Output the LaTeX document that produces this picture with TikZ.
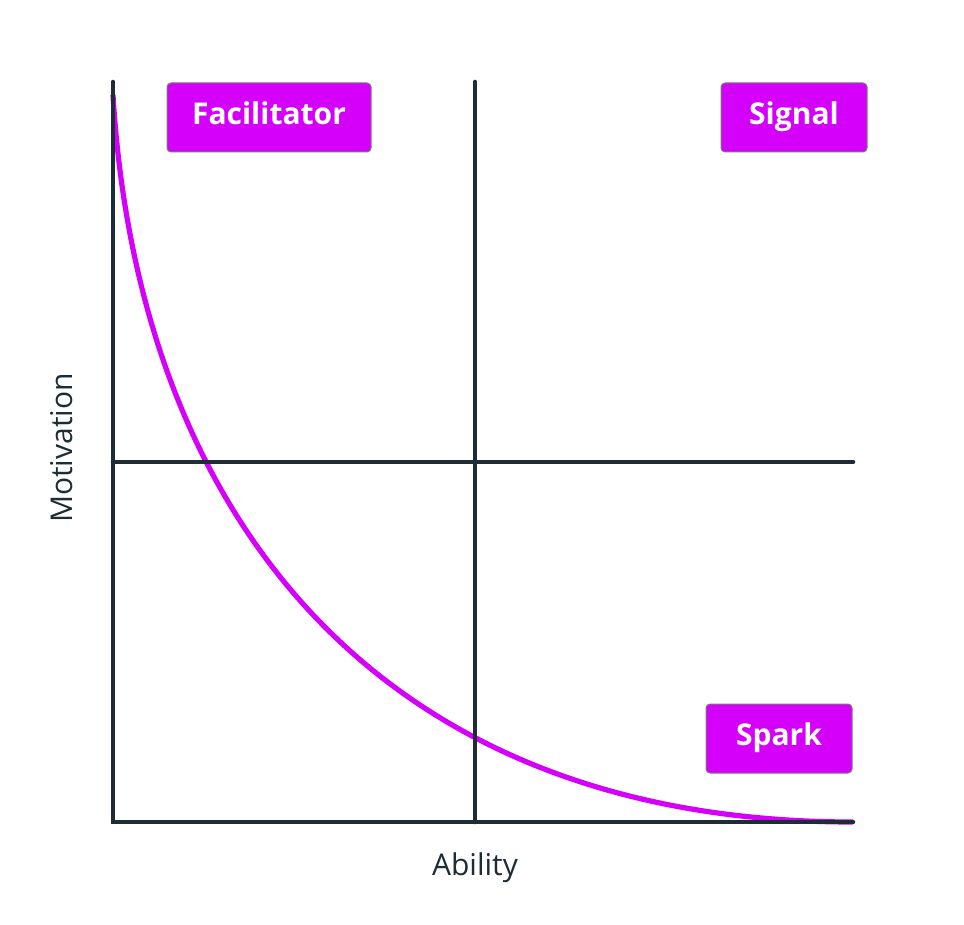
\documentclass[tikz,border=0pt]{standalone}
\usepackage{fontspec}
\setmainfont{Open Sans}
\usetikzlibrary{positioning}
\definecolor{axisink}{HTML}{1E2C36}
\definecolor{quadpink}{HTML}{D500F9}
\definecolor{tagbd}{HTML}{7A7A7A}
\tikzset{
  axisline/.style={draw=axisink,line width=2.3pt,line cap=round},
  tag/.style={draw=tagbd,fill=quadpink,line width=0.5pt,rounded corners=2pt,
              text=white,font=\fontsize{15}{18}\selectfont\bfseries,
              minimum height=34.5pt,inner sep=0pt,
              text height=10.7pt,text depth=3.5pt},
  axislabel/.style={text=axisink,font=\fontsize{15}{18}\selectfont},
  curveline/.style={draw=quadpink,line width=2.6pt},
}
\begin{document}
\begin{tikzpicture}[x=0.5pt,y=-0.5pt]
  \useasboundingbox (0,0) rectangle (964,925);
  % frame corners
  \coordinate (ytop) at (113,82);
  \coordinate (origin) at (113,822);
  \coordinate (xend) at (853,822);
  \coordinate (midtop) at (475,82);
  \coordinate (midbot) at (475,822);
  \coordinate (midleft) at (113,462);
  \coordinate (midright) at (853,462);
  % the curve
  \coordinate (cstart) at (113,95);
  \draw[curveline] (cstart) .. controls (138,512) and (375,822) .. (xend);
  % axes and quadrant lines
  \draw[axisline] (ytop) -- (origin) -- (xend);
  \draw[axisline] (midtop) -- (midbot);
  \draw[axisline] (midleft) -- (midright);
  % labels
  \node[tag,minimum width=102pt] (facilitator) at (269,117.5) {Facilitator};
  \node[tag,minimum width=73pt] (signal) at (794,117.5) {Signal};
  \node[tag,minimum width=73pt] (spark) at (779,738.5) {Spark};
  \node[axislabel] (ability) at (475,868) {Ability};
  \node[axislabel,rotate=90] (motivation) at (62,448) {Motivation};
\end{tikzpicture}
\end{document}
